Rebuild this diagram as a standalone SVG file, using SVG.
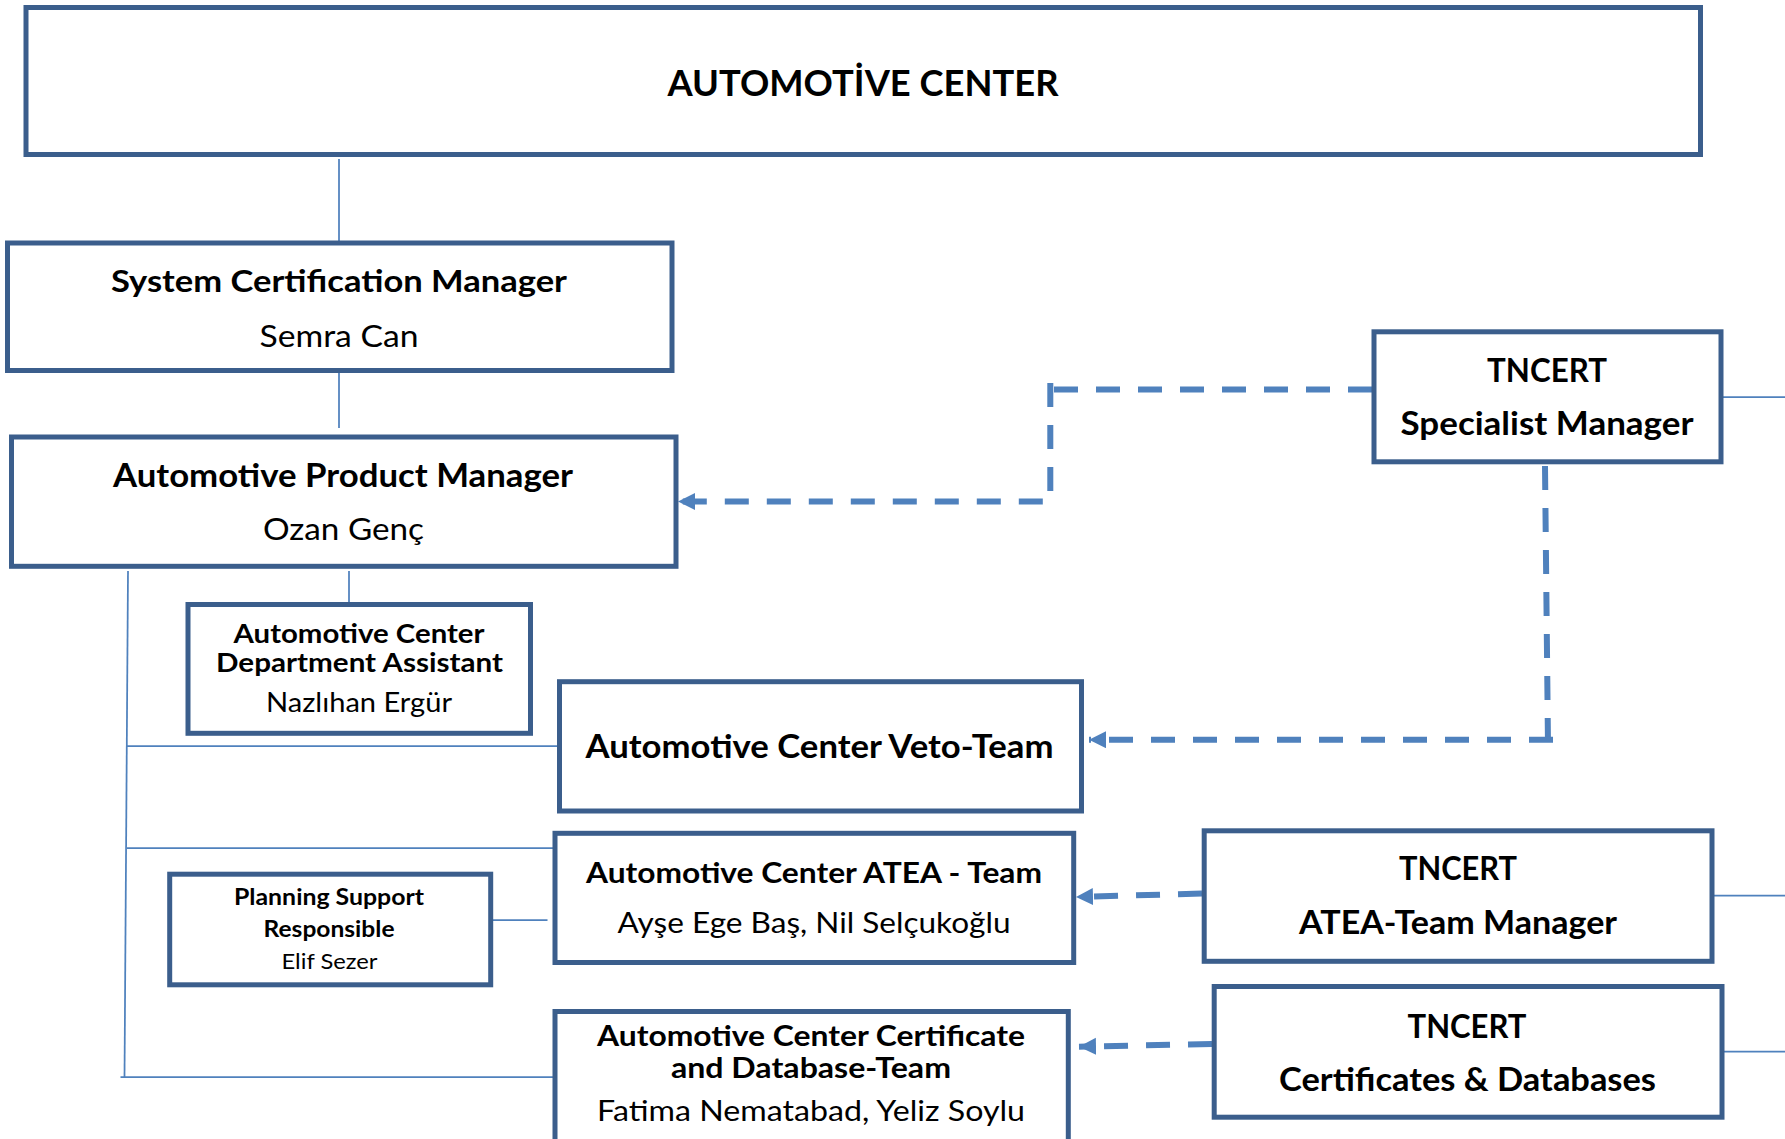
<svg xmlns="http://www.w3.org/2000/svg" width="1785" height="1139" viewBox="0 0 1785 1139">
<style>
.box{fill:#fff;stroke:#3B5E8C;stroke-width:5}
.ln{fill:none;stroke:#4F81BD;stroke-width:1.75}
.dash{fill:none;stroke:#4F81BD;stroke-width:6;stroke-dasharray:24 18}
text{font-family:Lato,"Open Sans","Liberation Sans",sans-serif;fill:#000;text-anchor:middle}
.b{font-weight:bold}
</style>
<defs>
<marker id="arr" markerUnits="userSpaceOnUse" markerWidth="19" markerHeight="18" refX="17" refY="8.5" orient="auto">
<path d="M0,0 L17,8.5 L0,17 z" fill="#4F81BD"/>
</marker>
</defs>
<rect width="1785" height="1139" fill="#fff"/>
<g id="connectors">
<line class="ln" x1="339" y1="159" x2="339" y2="241"/>
<line class="ln" x1="339" y1="373" x2="339" y2="428"/>
<line class="ln" x1="349" y1="571" x2="349" y2="605"/>
<line class="ln" x1="128" y1="571" x2="124.5" y2="1077"/>
<line class="ln" x1="126" y1="746" x2="557" y2="746"/>
<line class="ln" x1="127" y1="848" x2="553" y2="848"/>
<line class="ln" x1="120.5" y1="1077" x2="553" y2="1077"/>
<line class="ln" x1="487" y1="920" x2="547.5" y2="920"/>
<line class="ln" x1="1723" y1="397" x2="1785" y2="397"/>
<line class="ln" x1="1714" y1="895.7" x2="1785" y2="895.7"/>
<line class="ln" x1="1724" y1="1051.7" x2="1785" y2="1051.7"/>
<path class="dash" d="M1372,389.5 H1050.3"/>
<path class="dash" d="M1050.3,383 V501.5 H678" marker-end="url(#arr)"/>
<path class="dash" d="M1545,466 L1548,745"/>
<path class="dash" d="M1553,739.7 H1089" marker-end="url(#arr)"/>
<path class="dash" d="M1202,893.5 L1076,897" marker-end="url(#arr)"/>
<path class="dash" d="M1212,1044 L1079,1046.7" marker-end="url(#arr)"/>
</g>
<g id="automotive-center">
<rect class="box" x="26" y="7.5" width="1674.5" height="147"/>
<text class="b" x="863" y="96" font-size="36.5" textLength="391" lengthAdjust="spacingAndGlyphs">AUTOMOTİVE CENTER</text>
</g>
<g id="system-certification-manager">
<rect class="box" x="7.5" y="243" width="664.5" height="127.5"/>
<text class="b" x="339" y="292" font-size="31" textLength="456" lengthAdjust="spacingAndGlyphs">System Certification Manager</text>
<text x="339" y="347" font-size="30" textLength="159" lengthAdjust="spacingAndGlyphs">Semra Can</text>
</g>
<g id="automotive-product-manager">
<rect class="box" x="11.5" y="437" width="664.5" height="129.3"/>
<text class="b" x="343" y="487" font-size="31.5" textLength="460" lengthAdjust="spacingAndGlyphs">Automotive Product Manager</text>
<text x="343.5" y="540" font-size="31" textLength="161" lengthAdjust="spacingAndGlyphs">Ozan Genç</text>
</g>
<g id="department-assistant">
<rect class="box" x="188" y="604.5" width="342.5" height="128.8"/>
<text class="b" x="359" y="643" font-size="26" textLength="251" lengthAdjust="spacingAndGlyphs">Automotive Center</text>
<text class="b" x="359.5" y="672" font-size="26" textLength="287" lengthAdjust="spacingAndGlyphs">Department Assistant</text>
<text x="359" y="712" font-size="27" textLength="186" lengthAdjust="spacingAndGlyphs">Nazlıhan Ergür</text>
</g>
<g id="veto-team">
<rect class="box" x="559.5" y="681.7" width="522" height="129.3"/>
<text class="b" x="819.5" y="758" font-size="31.5" textLength="468" lengthAdjust="spacingAndGlyphs">Automotive Center Veto-Team</text>
</g>
<g id="atea-team">
<rect class="box" x="555" y="833.3" width="518.7" height="129.2"/>
<text class="b" x="814" y="883" font-size="29" textLength="456" lengthAdjust="spacingAndGlyphs">Automotive Center ATEA - Team</text>
<text x="814" y="933" font-size="29" textLength="393" lengthAdjust="spacingAndGlyphs">Ayşe Ege Baş, Nil Selçukoğlu</text>
</g>
<g id="certificate-database-team">
<rect class="box" x="555" y="1011.5" width="513.3" height="140"/>
<text class="b" x="811" y="1046" font-size="29" textLength="428" lengthAdjust="spacingAndGlyphs">Automotive Center Certificate</text>
<text class="b" x="811" y="1078" font-size="29" textLength="280" lengthAdjust="spacingAndGlyphs">and Database-Team</text>
<text x="811" y="1121" font-size="28" textLength="428" lengthAdjust="spacingAndGlyphs">Fatima Nematabad, Yeliz Soylu</text>
</g>
<g id="planning-support">
<rect class="box" x="169.7" y="874.2" width="321" height="110.6"/>
<text class="b" x="329" y="905" font-size="22" textLength="190" lengthAdjust="spacingAndGlyphs">Planning Support</text>
<text class="b" x="329" y="937" font-size="22" textLength="131" lengthAdjust="spacingAndGlyphs">Responsible</text>
<text x="329.5" y="969" font-size="22" textLength="96" lengthAdjust="spacingAndGlyphs">Elif Sezer</text>
</g>
<g id="tncert-specialist-manager">
<rect class="box" x="1374" y="331.8" width="347" height="130"/>
<text class="b" x="1547" y="382" font-size="32" textLength="120" lengthAdjust="spacingAndGlyphs">TNCERT</text>
<text class="b" x="1547" y="435" font-size="32" textLength="293" lengthAdjust="spacingAndGlyphs">Specialist Manager</text>
</g>
<g id="tncert-atea-team-manager">
<rect class="box" x="1204.2" y="830.8" width="507.8" height="130.5"/>
<text class="b" x="1458" y="880" font-size="32" textLength="118" lengthAdjust="spacingAndGlyphs">TNCERT</text>
<text class="b" x="1458" y="934" font-size="32" textLength="318" lengthAdjust="spacingAndGlyphs">ATEA-Team Manager</text>
</g>
<g id="tncert-certificates-databases">
<rect class="box" x="1214.2" y="986.5" width="507.8" height="130.7"/>
<text class="b" x="1467" y="1038" font-size="32" textLength="119" lengthAdjust="spacingAndGlyphs">TNCERT</text>
<text class="b" x="1467.5" y="1091" font-size="32" textLength="377" lengthAdjust="spacingAndGlyphs">Certificates &amp; Databases</text>
</g>
</svg>
